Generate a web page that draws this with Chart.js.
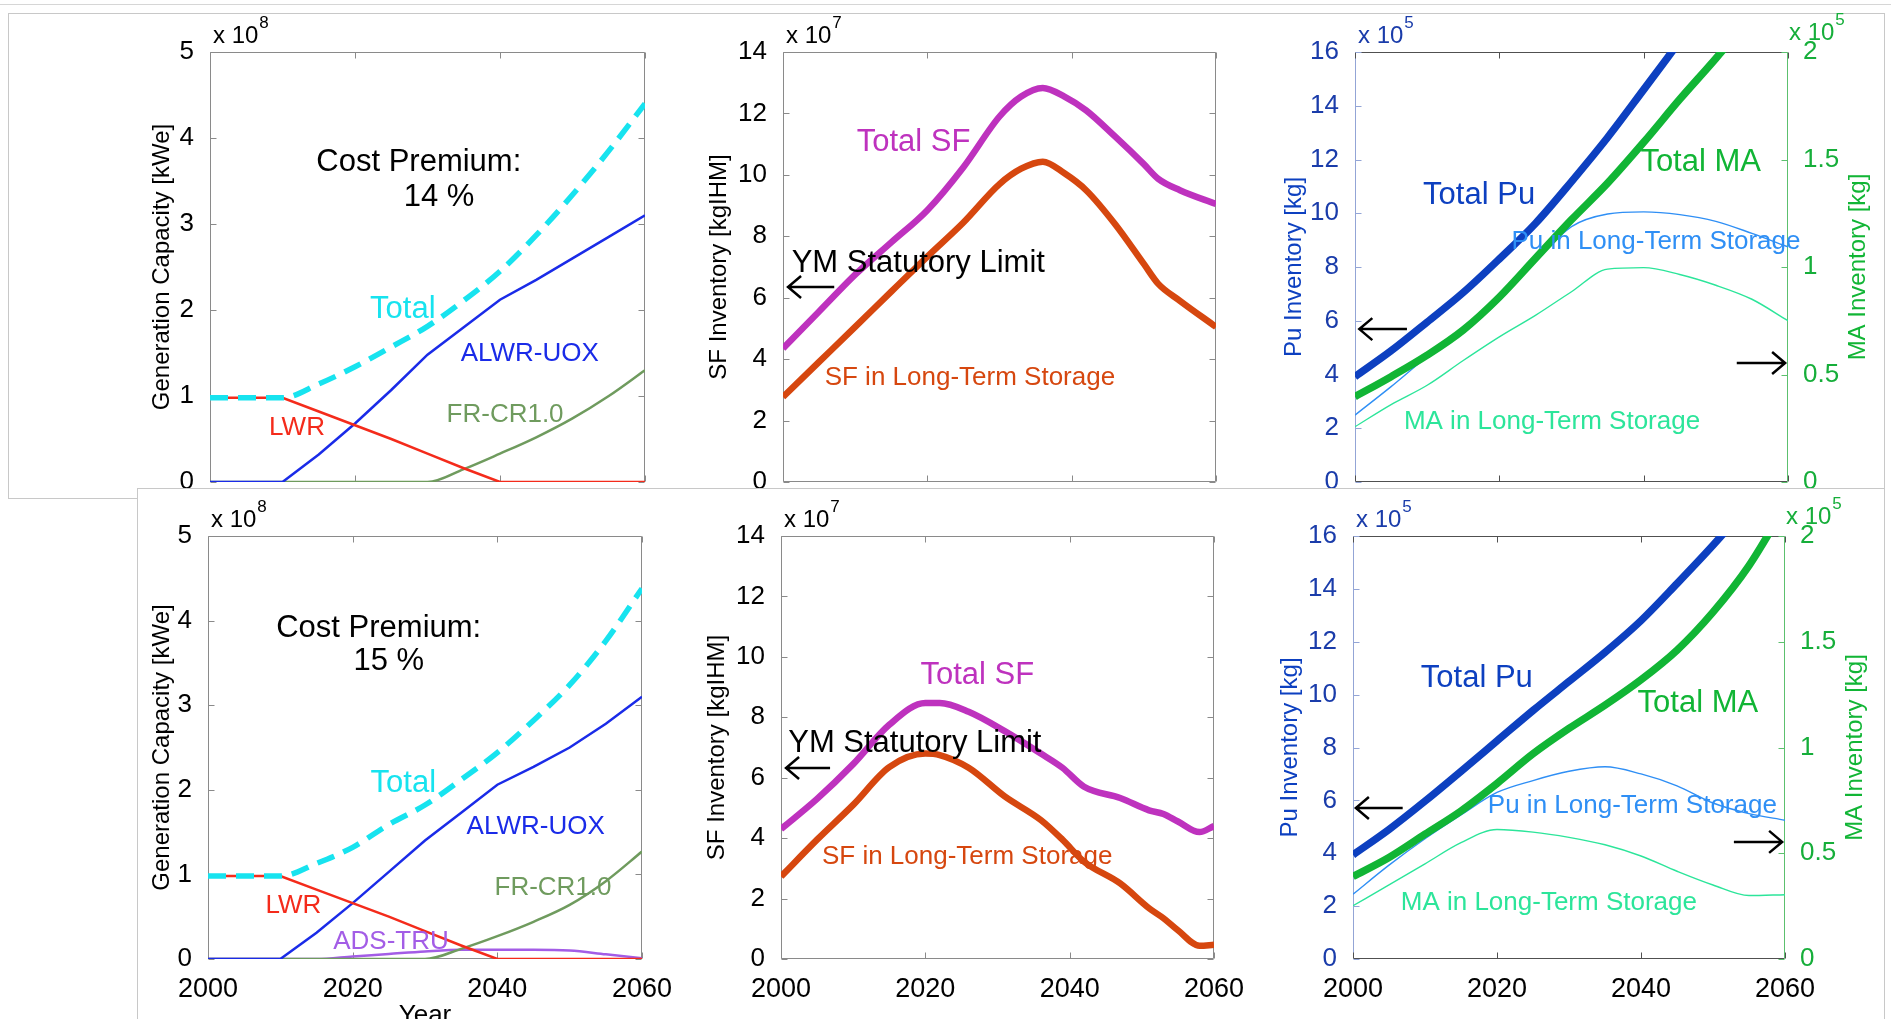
<!DOCTYPE html>
<html>
<head>
<meta charset="utf-8">
<script src="https://cdn.jsdelivr.net/npm/chart.js@4.4.1/dist/chart.umd.min.js"></script>
<style>
  html, body { margin: 0; padding: 0; background: #fff; }
  body { width: 1891px; height: 1019px; position: relative; overflow: hidden; }
  canvas { position: absolute; }
  .rule { position: absolute; left: 0; top: 4px; width: 1891px; border-top: 1px solid #d6d6d6; }
  .boxTop { position: absolute; left: 8px; top: 13px; width: 1877px; height: 486px; border: 1px solid #c8c8c8; box-sizing: border-box; }
  .boxBottom { position: absolute; left: 137px; top: 488px; width: 1748px; height: 560px; border-top: 1px solid #c8c8c8; border-left: 1px solid #c8c8c8; border-right: 1px solid #c8c8c8; box-sizing: border-box; background: #fff; }
</style>
</head>
<body>
<div class="rule"></div>
<div class="boxTop"></div>
<canvas id="genTop"></canvas>
<canvas id="sfTop"></canvas>
<canvas id="puTop"></canvas>
<div class="boxBottom"></div>
<canvas id="genBot"></canvas>
<canvas id="sfBot"></canvas>
<canvas id="puBot"></canvas>

<script>
const FONT = '"Liberation Sans", Arial, Helvetica, sans-serif';

// ---- data ----
const YEARS = [2000, 2005, 2010, 2015, 2020, 2025, 2030, 2035, 2040, 2045, 2050, 2055, 2060];
const X_TICKS = [2000, 2020, 2040, 2060];

// generation capacity, x 10^8 kWe (cost premium 14 %)
const lwrTop   = [0.98, 0.98, 0.98, 0.82, 0.66, 0.50, 0.33, 0.16, 0, 0, 0, 0, 0];
const alwrTop  = [0, 0, 0, 0.32, 0.68, 1.07, 1.48, 1.80, 2.12, 2.35, 2.60, 2.85, 3.10];
const frTop    = [0, 0, 0, 0, 0, 0, 0, 0.15, 0.33, 0.52, 0.74, 1.00, 1.30];
const totalTop = [0.98, 0.98, 0.98, 1.14, 1.34, 1.57, 1.81, 2.11, 2.45, 2.87, 3.34, 3.85, 4.40];

// generation capacity, x 10^8 kWe (cost premium 15 %)
const lwrBot   = [0.98, 0.98, 0.98, 0.82, 0.66, 0.50, 0.33, 0.16, 0, 0, 0, 0, 0];
const alwrBot  = [0, 0, 0, 0.31, 0.66, 1.03, 1.40, 1.73, 2.06, 2.27, 2.50, 2.78, 3.10];
const frBot    = [0, 0, 0, 0, 0, 0, 0, 0.12, 0.27, 0.44, 0.64, 0.92, 1.27];
const adsBot   = [0, 0, 0, 0, 0.03, 0.06, 0.09, 0.11, 0.11, 0.11, 0.10, 0.055, 0.01];
const totalBot = [0.98, 0.98, 0.98, 1.13, 1.32, 1.59, 1.82, 2.12, 2.44, 2.82, 3.24, 3.76, 4.38];

// spent fuel, x 10^7 kgIHM
const SF_YEARS_TOP = [2000, 2005, 2010, 2015, 2020, 2025, 2030, 2033, 2036, 2039, 2042, 2046, 2050, 2052, 2055, 2060];
const sfTotalTop = [4.35, 5.55, 6.75, 7.8, 8.85, 10.25, 11.9, 12.55, 12.83, 12.55, 12.1, 11.25, 10.35, 9.87, 9.5, 9.05];
const sfLtsTop   = [2.77, 3.91, 5.05, 6.2, 7.34, 8.45, 9.7, 10.2, 10.43, 10.05, 9.5, 8.4, 7.1, 6.45, 5.9, 5.05];

const SF_YEARS_BOT = [2000, 2005, 2010, 2015, 2020, 2022, 2026, 2031, 2036, 2039, 2042, 2047, 2051, 2053, 2055, 2058, 2060];
const sfTotalBot = [4.3, 5.3, 6.45, 7.75, 8.47, 8.47, 8.18, 7.54, 6.8, 6.33, 5.7, 5.33, 4.92, 4.8, 4.55, 4.2, 4.4];
const sfLtsBot   = [2.73, 3.95, 5.1, 6.35, 6.8, 6.75, 6.33, 5.38, 4.6, 3.95, 3.22, 2.5, 1.68, 1.35, 0.95, 0.44, 0.47];

// Pu (x 10^5 kg, left axis) and MA (x 10^5 kg, right axis)
const puTotalTop = [3.92, 4.88, 5.95, 7.05, 8.3, 9.62, 11.18, 12.82, 14.6, 16.4, null, null, null];
const maTotalTop = [0.397, 0.49, 0.59, 0.707, 0.86, 1.04, 1.22, 1.39, 1.58, 1.78, 1.97, 2.17, null];
const puLtsTop   = [2.49, 3.55, 4.65, 5.55, 6.75, 8.2, 9.5, 9.97, 10.05, 9.95, 9.7, 9.25, 8.75];
const maLtsTop   = [0.257, 0.36, 0.45, 0.565, 0.675, 0.775, 0.885, 0.99, 0.997, 0.965, 0.915, 0.85, 0.75];

const puTotalBot = [3.94, 4.9, 5.97, 7.1, 8.25, 9.4, 10.5, 11.6, 12.8, 14.2, 15.65, 17.2, null];
const maTotalBot = [0.39, 0.48, 0.59, 0.70, 0.83, 0.97, 1.09, 1.2, 1.32, 1.46, 1.64, 1.86, 2.14];
const puLtsBot   = [2.45, 3.55, 4.55, 5.45, 6.3, 6.75, 7.1, 7.27, 7.0, 6.55, 5.9, 5.5, 5.25];
const maLtsBot   = [0.252, 0.35, 0.45, 0.55, 0.612, 0.6, 0.575, 0.54, 0.487, 0.415, 0.35, 0.3, 0.304];

// ---- colours ----
const CYAN = '#17e3ef', BLUE = '#1a2be8', RED = '#f42b1b', OLIVE = '#6f9b5e', PURPLE = '#a35de6';
const MAGENTA = '#be32be', ORANGE = '#d6470f';
const PU_DARK = '#0d40c0', MA_GREEN = '#11b535', PU_LIGHT = '#2f8ff5', MA_MINT = '#2ce59a';
const PU_TICK = '#1a3caa', MA_TICK = '#16ae3a';
const GREY_FRAME = { left: '#8a8a8a', right: '#8a8a8a', top: '#8a8a8a', bottom: '#8a8a8a' };
const PU_FRAME = { left: '#93a5d6', right: '#5cc06e', top: '#505050', bottom: '#505050' };

function series(years, vals, color, width, extra) {
  return Object.assign({
    data: years.map((yr, i) => ({ x: yr, y: vals[i] })),
    borderColor: color,
    borderWidth: width,
    pointRadius: 0,
    fill: false,
    tension: 0,
    spanGaps: false
  }, extra || {});
}

function drawFrame(chart, spec) {
  const { ctx, chartArea: a, scales } = chart;
  const L = Math.round(a.left) + 0.5, R = Math.round(a.right) - 0.5;
  const T = Math.round(a.top) + 0.5, B = Math.round(a.bottom) - 0.5;
  const f = spec.frame, tl = 6;
  const seg = (x0, y0, x1, y1, c) => {
    ctx.strokeStyle = c; ctx.beginPath(); ctx.moveTo(x0, y0); ctx.lineTo(x1, y1); ctx.stroke();
  };
  ctx.save();
  ctx.lineWidth = 1;
  seg(L, T, R, T, f.top);
  seg(L, B, R, B, f.bottom);
  seg(L, T, L, B, f.left);
  seg(R, T, R, B, f.right);
  X_TICKS.forEach(v => {
    const px = Math.round(scales.x.getPixelForValue(v)) + 0.5;
    seg(px, B, px, B - tl, f.bottom);
    seg(px, T, px, T + tl, f.top);
  });
  scales.y.ticks.forEach(t => {
    const py = Math.round(scales.y.getPixelForValue(t.value)) + 0.5;
    seg(L, py, L + tl, py, f.left);
    if (!scales.y2) seg(R, py, R - tl, py, f.right);
  });
  if (scales.y2) {
    scales.y2.ticks.forEach(t => {
      const py = Math.round(scales.y2.getPixelForValue(t.value)) + 0.5;
      seg(R, py, R - tl, py, f.right);
    });
  }
  ctx.restore();
}

function drawNotes(chart, spec) {
  const { ctx, chartArea: a, scales } = chart;
  ctx.save();

  // exponent labels above the axes
  (spec.exps || []).forEach(e => {
    const x0 = e.side === 'right' ? a.right + 1 : a.left + 3;
    const lift = e.side === 'right' ? 3 : 0;
    ctx.fillStyle = e.color;
    ctx.textAlign = 'left';
    ctx.textBaseline = 'alphabetic';
    ctx.font = '24px ' + FONT;
    ctx.fillText('x 10', x0, a.top - 9 - lift);
    const w = ctx.measureText('x 10').width;
    ctx.font = '17px ' + FONT;
    ctx.fillText(e.power, x0 + w + 1, a.top - 24 - lift);
  });

  // rotated axis titles
  (spec.titles || []).forEach(t => {
    const cx = (t.side === 'right' ? a.right : a.left) + t.dx;
    ctx.save();
    ctx.translate(cx, (a.top + a.bottom) / 2);
    ctx.rotate(-Math.PI / 2);
    ctx.fillStyle = t.color;
    ctx.font = '24px ' + FONT;
    ctx.textAlign = 'center';
    ctx.textBaseline = 'middle';
    ctx.fillText(t.text, 0, 0);
    ctx.restore();
  });

  if (spec.xTitle) {
    ctx.fillStyle = '#000';
    ctx.font = '26px ' + FONT;
    ctx.textAlign = 'center';
    ctx.textBaseline = 'middle';
    ctx.fillText(spec.xTitle, (a.left + a.right) / 2, a.bottom + 57);
  }

  // labels placed in data coordinates
  (spec.notes || []).forEach(n => {
    const ys = scales[n.axis || 'y'];
    ctx.fillStyle = n.c;
    ctx.font = n.s + 'px ' + FONT;
    ctx.textAlign = n.align || 'center';
    ctx.textBaseline = 'middle';
    ctx.fillText(n.t, scales.x.getPixelForValue(n.x), ys.getPixelForValue(n.y));
  });

  // open-headed arrows
  ctx.strokeStyle = '#000';
  ctx.lineWidth = 2.5;
  (spec.arrows || []).forEach(r => {
    const x0 = scales.x.getPixelForValue(r.x0), x1 = scales.x.getPixelForValue(r.x1);
    const y = scales.y.getPixelForValue(r.y);
    const d = Math.sign(x1 - x0);
    ctx.beginPath();
    ctx.moveTo(x0, y); ctx.lineTo(x1, y);
    ctx.moveTo(x1 - d * 13, y - 11); ctx.lineTo(x1, y); ctx.lineTo(x1 - d * 13, y + 11);
    ctx.stroke();
  });
  ctx.restore();
}

function makePanel(id, area, spec) {
  const cv = document.getElementById(id);
  const W = area.r - area.l + 210, H = area.b - area.t + 120;
  cv.width = W; cv.height = H;
  cv.style.width = W + 'px'; cv.style.height = H + 'px';
  cv.style.left = (area.l - 120) + 'px';
  cv.style.top = (area.t - 60) + 'px';

  const scales = {
    x: {
      type: 'linear', min: 2000, max: 2060,
      afterFit: s => { s.height = 60; },
      afterBuildTicks: s => { s.ticks = X_TICKS.map(v => ({ value: v })); },
      grid: { display: false }, border: { display: false },
      ticks: {
        display: spec.showX, padding: 6, color: '#000', maxRotation: 0, autoSkip: false,
        font: { size: 27, family: FONT }, callback: v => String(v)
      }
    },
    y: {
      min: spec.y.min, max: spec.y.max,
      afterFit: s => { s.width = 120; },
      grid: { display: false }, border: { display: false },
      ticks: { stepSize: spec.y.step, padding: 8, color: spec.y.color, font: { size: 26, family: FONT }, callback: v => String(v) }
    }
  };
  if (spec.y2) {
    scales.y2 = {
      position: 'right', min: spec.y2.min, max: spec.y2.max,
      afterFit: s => { s.width = 90; },
      grid: { display: false }, border: { display: false },
      ticks: { stepSize: spec.y2.step, padding: 7, color: spec.y2.color, font: { size: 26, family: FONT }, callback: v => String(v) }
    };
  }

  return new Chart(cv, {
    type: 'line',
    data: { datasets: spec.datasets },
    options: {
      responsive: false,
      animation: false,
      devicePixelRatio: 1,
      layout: { padding: { top: 60, left: 0, bottom: 0, right: spec.y2 ? 0 : 90 } },
      plugins: { legend: { display: false }, tooltip: { enabled: false } },
      scales
    },
    plugins: [{
      id: 'decor',
      beforeDatasetsDraw: chart => drawFrame(chart, spec),
      afterDatasetsDraw: chart => drawNotes(chart, spec)
    }]
  });
}

// ---- top row ----
makePanel('genTop', { l: 210, t: 52, r: 645, b: 482 }, {
  showX: false,
  y: { min: 0, max: 5, step: 1, color: '#000' },
  frame: GREY_FRAME,
  datasets: [
    series(YEARS, totalTop, CYAN, 5.5, { borderDash: [18, 10], cubicInterpolationMode: 'monotone' }),
    series(YEARS, lwrTop, RED, 2.5),
    series(YEARS, alwrTop, BLUE, 2.5),
    series(YEARS, frTop, OLIVE, 2.5, { cubicInterpolationMode: 'monotone' })
  ],
  exps: [{ side: 'left', power: '8', color: '#000' }],
  titles: [{ text: 'Generation Capacity [kWe]', side: 'left', dx: -48, color: '#000' }],
  notes: [
    { t: 'Cost Premium:', x: 2028.8, y: 3.72, c: '#000', s: 31 },
    { t: '14 %', x: 2031.6, y: 3.31, c: '#000', s: 31 },
    { t: 'Total', x: 2026.6, y: 2.01, c: CYAN, s: 31 },
    { t: 'ALWR-UOX', x: 2044.1, y: 1.49, c: BLUE, s: 26 },
    { t: 'LWR', x: 2012, y: 0.63, c: RED, s: 26 },
    { t: 'FR-CR1.0', x: 2040.7, y: 0.78, c: OLIVE, s: 26 }
  ]
});

makePanel('sfTop', { l: 783, t: 52, r: 1216, b: 482 }, {
  showX: false,
  y: { min: 0, max: 14, step: 2, color: '#000' },
  frame: GREY_FRAME,
  datasets: [
    series(SF_YEARS_TOP, sfTotalTop, MAGENTA, 6.5, { cubicInterpolationMode: 'monotone' }),
    series(SF_YEARS_TOP, sfLtsTop, ORANGE, 6.5, { cubicInterpolationMode: 'monotone' })
  ],
  exps: [{ side: 'left', power: '7', color: '#000' }],
  titles: [{ text: 'SF Inventory [kgIHM]', side: 'left', dx: -64, color: '#000' }],
  notes: [
    { t: 'Total SF', x: 2018.1, y: 11.07, c: MAGENTA, s: 31 },
    { t: 'YM Statutory Limit', x: 2001.2, y: 7.13, c: '#000', s: 31, align: 'left' },
    { t: 'SF in Long-Term Storage', x: 2025.9, y: 3.39, c: ORANGE, s: 26 }
  ],
  arrows: [{ x0: 2007.1, x1: 2000.7, y: 6.35 }]
});

makePanel('puTop', { l: 1355, t: 52, r: 1788, b: 482 }, {
  showX: false,
  y: { min: 0, max: 16, step: 2, color: PU_TICK },
  y2: { min: 0, max: 2, step: 0.5, color: MA_TICK },
  frame: PU_FRAME,
  datasets: [
    series(YEARS, puTotalTop, PU_DARK, 7.5, { cubicInterpolationMode: 'monotone' }),
    series(YEARS, maTotalTop, MA_GREEN, 7.5, { yAxisID: 'y2', cubicInterpolationMode: 'monotone' }),
    series(YEARS, puLtsTop, PU_LIGHT, 1.4, { cubicInterpolationMode: 'monotone' }),
    series(YEARS, maLtsTop, MA_MINT, 1.4, { yAxisID: 'y2', cubicInterpolationMode: 'monotone' })
  ],
  exps: [{ side: 'left', power: '5', color: PU_TICK }, { side: 'right', power: '5', color: MA_TICK }],
  titles: [
    { text: 'Pu Inventory [kg]', side: 'left', dx: -61, color: PU_DARK },
    { text: 'MA Inventory [kg]', side: 'right', dx: 70, color: MA_GREEN }
  ],
  notes: [
    { t: 'Total Pu', x: 2017.2, y: 10.68, c: PU_DARK, s: 31 },
    { t: 'Total MA', x: 2047.9, y: 11.9, c: MA_GREEN, s: 31 },
    { t: 'Pu in Long-Term Storage', x: 2041.7, y: 8.93, c: PU_LIGHT, s: 26 },
    { t: 'MA in Long-Term Storage', x: 2027.3, y: 2.23, c: MA_MINT, s: 26 }
  ],
  arrows: [{ x0: 2007.2, x1: 2000.6, y: 5.69 }, { x0: 2052.9, x1: 2059.6, y: 4.43 }]
});

// ---- bottom row ----
makePanel('genBot', { l: 208, t: 536, r: 642, b: 959 }, {
  showX: true,
  xTitle: 'Year',
  y: { min: 0, max: 5, step: 1, color: '#000' },
  frame: GREY_FRAME,
  datasets: [
    series(YEARS, totalBot, CYAN, 5.5, { borderDash: [18, 10], cubicInterpolationMode: 'monotone' }),
    series(YEARS, lwrBot, RED, 2.5),
    series(YEARS, alwrBot, BLUE, 2.5),
    series(YEARS, frBot, OLIVE, 2.5, { cubicInterpolationMode: 'monotone' }),
    series(YEARS, adsBot, PURPLE, 2.5, { cubicInterpolationMode: 'monotone' })
  ],
  exps: [{ side: 'left', power: '8', color: '#000' }],
  titles: [{ text: 'Generation Capacity [kWe]', side: 'left', dx: -46, color: '#000' }],
  notes: [
    { t: 'Cost Premium:', x: 2023.6, y: 3.91, c: '#000', s: 31 },
    { t: '15 %', x: 2025, y: 3.52, c: '#000', s: 31 },
    { t: 'Total', x: 2027, y: 2.08, c: CYAN, s: 31 },
    { t: 'ALWR-UOX', x: 2045.3, y: 1.56, c: BLUE, s: 26 },
    { t: 'LWR', x: 2011.8, y: 0.63, c: RED, s: 26 },
    { t: 'FR-CR1.0', x: 2047.7, y: 0.84, c: OLIVE, s: 26 },
    { t: 'ADS-TRU', x: 2025.3, y: 0.2, c: PURPLE, s: 26 }
  ]
});

makePanel('sfBot', { l: 781, t: 536, r: 1214, b: 959 }, {
  showX: true,
  y: { min: 0, max: 14, step: 2, color: '#000' },
  frame: GREY_FRAME,
  datasets: [
    series(SF_YEARS_BOT, sfTotalBot, MAGENTA, 6.5, { cubicInterpolationMode: 'monotone' }),
    series(SF_YEARS_BOT, sfLtsBot, ORANGE, 6.5, { cubicInterpolationMode: 'monotone' })
  ],
  exps: [{ side: 'left', power: '7', color: '#000' }],
  titles: [{ text: 'SF Inventory [kgIHM]', side: 'left', dx: -64, color: '#000' }],
  notes: [
    { t: 'Total SF', x: 2027.2, y: 9.4, c: MAGENTA, s: 31 },
    { t: 'YM Statutory Limit', x: 2001, y: 7.15, c: '#000', s: 31, align: 'left' },
    { t: 'SF in Long-Term Storage', x: 2025.8, y: 3.38, c: ORANGE, s: 26 }
  ],
  arrows: [{ x0: 2006.8, x1: 2000.7, y: 6.32 }]
});

makePanel('puBot', { l: 1353, t: 536, r: 1785, b: 959 }, {
  showX: true,
  y: { min: 0, max: 16, step: 2, color: PU_TICK },
  y2: { min: 0, max: 2, step: 0.5, color: MA_TICK },
  frame: PU_FRAME,
  datasets: [
    series(YEARS, puTotalBot, PU_DARK, 7.5, { cubicInterpolationMode: 'monotone' }),
    series(YEARS, maTotalBot, MA_GREEN, 7.5, { yAxisID: 'y2', cubicInterpolationMode: 'monotone' }),
    series(YEARS, puLtsBot, PU_LIGHT, 1.4, { cubicInterpolationMode: 'monotone' }),
    series(YEARS, maLtsBot, MA_MINT, 1.4, { yAxisID: 'y2', cubicInterpolationMode: 'monotone' })
  ],
  exps: [{ side: 'left', power: '5', color: PU_TICK }, { side: 'right', power: '5', color: MA_TICK }],
  titles: [
    { text: 'Pu Inventory [kg]', side: 'left', dx: -63, color: PU_DARK },
    { text: 'MA Inventory [kg]', side: 'right', dx: 70, color: MA_GREEN }
  ],
  notes: [
    { t: 'Total Pu', x: 2017.2, y: 10.63, c: PU_DARK, s: 31 },
    { t: 'Total MA', x: 2047.9, y: 9.68, c: MA_GREEN, s: 31 },
    { t: 'Pu in Long-Term Storage', x: 2038.8, y: 5.79, c: PU_LIGHT, s: 26 },
    { t: 'MA in Long-Term Storage', x: 2027.2, y: 2.12, c: MA_MINT, s: 26 }
  ],
  arrows: [{ x0: 2006.9, x1: 2000.4, y: 5.71 }, { x0: 2052.9, x1: 2059.6, y: 4.43 }]
});
</script>
</body>
</html>
